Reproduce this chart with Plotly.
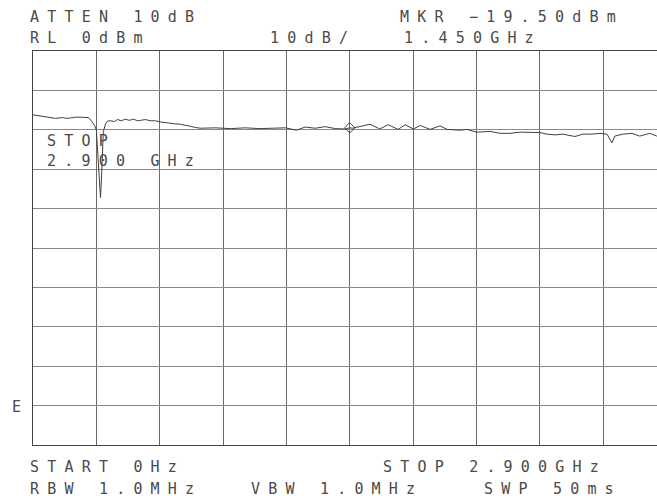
import plotly.graph_objects as go

# spectrum analyzer trace (GHz, dBm)
freq_ghz = [0.000, 0.034, 0.057, 0.080, 0.103, 0.135, 0.153, 0.172, 0.194, 0.217,
            0.240, 0.254, 0.268, 0.281, 0.290, 0.297, 0.304, 0.309, 0.313, 0.318,
            0.322, 0.332, 0.341, 0.354, 0.373, 0.387, 0.405, 0.423, 0.441, 0.460,
            0.478, 0.492, 0.515, 0.537, 0.560, 0.583, 0.606, 0.629, 0.652, 0.675,
            0.698, 0.720, 0.743, 0.766, 0.835, 0.904, 0.972, 1.040, 1.095, 1.155,
            1.206, 1.246, 1.292, 1.338, 1.384, 1.430, 1.450, 1.463, 1.543, 1.588,
            1.626, 1.672, 1.704, 1.741, 1.773, 1.818, 1.864, 1.896, 1.955, 1.987,
            2.032, 2.093, 2.139, 2.184, 2.230, 2.276, 2.321, 2.353, 2.390, 2.426,
            2.481, 2.518, 2.559, 2.596, 2.628, 2.651, 2.664, 2.701, 2.742, 2.778,
            2.824, 2.856, 2.900]
level_dbm = [-16.2, -16.5, -16.8, -16.9, -17.1, -16.9, -17.1, -17.0, -16.8, -16.8,
             -16.8, -16.9, -17.8, -18.8, -20.0, -26.0, -33.0, -37.2, -33.0, -25.0,
             -20.5, -18.5, -17.8, -17.7, -17.9, -17.4, -17.7, -17.3, -17.6, -17.3,
             -17.7, -17.6, -17.4, -17.7, -17.7, -18.0, -18.2, -18.4, -18.5, -18.6,
             -18.8, -19.1, -19.4, -19.6, -19.5, -19.7, -19.5, -19.7, -19.6, -19.5,
             -20.1, -19.3, -19.6, -19.2, -19.7, -19.8, -19.5, -19.6, -18.6, -19.8,
             -18.7, -19.9, -18.7, -19.8, -18.9, -19.9, -19.0, -19.9, -20.1, -19.9,
             -20.6, -20.4, -20.9, -20.9, -20.6, -20.7, -20.7, -21.1, -21.3, -21.1,
             -21.7, -21.1, -21.1, -20.9, -21.1, -23.3, -21.6, -21.1, -20.9, -21.6,
             -20.9, -21.6, -21.2]

marker_freq = [1.450]
marker_level = [-19.5]

# screen annotations: text, left x px, centre y px
labels = ["ATTEN 10dB", "MKR \u221219.50dBm", "RL 0dBm", "10dB/", "1.450GHz",
          "STOP<br>2.900 GHz", "E",
          "START 0Hz", "STOP 2.900GHz", "RBW 1.0MHz", "VBW 1.0MHz", "SWP 50ms"]
label_x = [28, 398, 28, 268, 402, 45, 10, 28, 381, 28, 249, 482]
label_y = [17, 17, 38, 38, 38, 151, 407, 467, 467, 489, 489, 489]

W, H = 657, 498
L, T, B = 33, 51, 53
pw, ph = W - L, H - T - B

ink = "#4a4a4a"

fig = go.Figure()
fig.add_trace(go.Scatter(x=freq_ghz, y=level_dbm, mode="lines",
                         line=dict(color="#404040", width=1), hoverinfo="skip"))
fig.add_trace(go.Scatter(x=marker_freq, y=marker_level, mode="markers",
                         marker=dict(symbol="diamond-open", size=8,
                                     color="#404040", line=dict(width=1)),
                         hoverinfo="skip"))

for txt, px_, py_ in zip(labels, label_x, label_y):
    fig.add_annotation(text=txt, x=(px_ - L) / pw, y=(T + ph - py_) / ph,
                       xref="paper", yref="paper", xanchor="left", yanchor="middle",
                       align="left", showarrow=False,
                       font=dict(family="DejaVu Sans Mono", size=15, color=ink))

fig.update_xaxes(range=[0, 2.857], tick0=0, dtick=0.29, showgrid=True,
                 gridcolor="#6a6a6a", gridwidth=1, showticklabels=False, ticks="",
                 zeroline=False, showline=True, linecolor="#444444", linewidth=1,
                 mirror=True)
fig.update_yaxes(range=[-100, 0], tick0=0, dtick=10, showgrid=True,
                 gridcolor="#8a8a8a", gridwidth=1, showticklabels=False, ticks="",
                 zeroline=False, showline=True, linecolor="#444444", linewidth=1)

fig.update_layout(width=W, height=H, showlegend=False,
                  margin=dict(l=L, r=0, t=T, b=B, pad=0),
                  paper_bgcolor="white", plot_bgcolor="white")

fig.write_html("out.html", config={"displayModeBar": False}, post_script=(
    "document.body.style.margin='0';"
    "document.querySelectorAll('.annotation-text').forEach(function(t){"
    "t.style.letterSpacing='8.2px';});"))
